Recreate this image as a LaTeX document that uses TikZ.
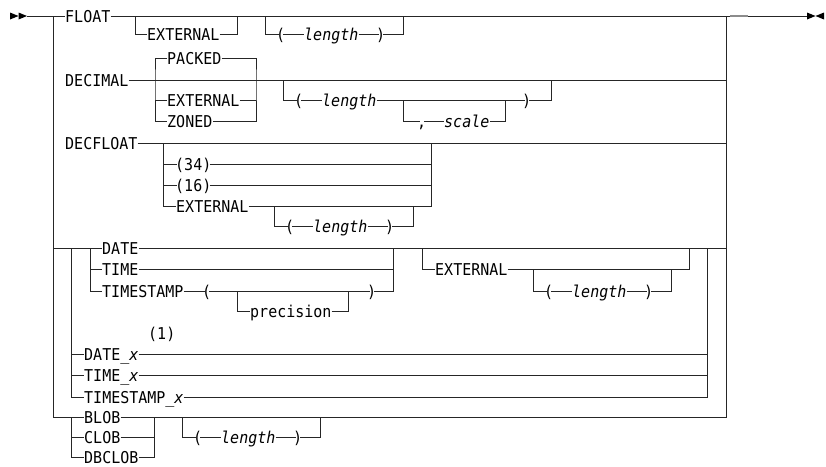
\documentclass[tikz,border=0pt]{standalone}
\usepackage{fontspec}
\newfontfamily\rrfont{DejaVu Sans Mono}[ItalicFont={DejaVu Sans Mono Oblique},FakeStretch=0.92]
\tikzset{
  rail/.style={line width=0.9pt, draw=black!85},
  kw/.style={anchor=west, inner xsep=0pt, inner ysep=0pt, text height=12pt, text depth=0pt, font=\rrfont\fontsize{16.3}{18}\selectfont},
  var/.style={kw, font=\rrfont\itshape\fontsize{16.3}{18}\selectfont},
  pun/.style={kw, inner xsep=-2.5pt},
  kwp/.style={kw, inner xsep=-2pt},
  railtip/.style={fill=black},
}
\newcommand\rrlen[5]{% prefix, x0, y, parent y, x-end
  \node[pun] (#1a) at (#2+13.5,#3) {(};
  \node[var] (#1b) at (#2+39,#3) {length};
  \node[pun] (#1c) at (#2+113.5,#3) {)};
  \coordinate (#1s) at (#2,#4);
  \coordinate (#1e) at (#5,#4);
  \draw[rail] (#1s) |- (#1a.west);
  \draw[rail] (#1a.east) -- (#1b.west);
  \draw[rail] (#1b.east) -- (#1c.west);
  \draw[rail] (#1c.east) -| (#1e);
}
\begin{document}
\begin{tikzpicture}[x=1pt,y=-1pt]
\useasboundingbox (0,0) rectangle (826,466);
\coordinate (start) at (27,16);
\coordinate (end) at (807,16);
\coordinate (Ltop) at (53,16);
\coordinate (Lbot) at (53,417);
\coordinate (Rtop) at (726,16);
\coordinate (Rbot) at (726,417);
\fill[railtip] (10,12.5) -- (18.5,16) -- (10,19.5) -- cycle;
\fill[railtip] (18.5,12.5) -- (27,16) -- (18.5,19.5) -- cycle;
\fill[railtip] (807,12.5) -- (815.5,16) -- (807,19.5) -- cycle;
\fill[railtip] (824,12.5) -- (815.5,16) -- (824,19.5) -- cycle;

% FLOAT
\node[kw] (float) at (65,16) {FLOAT};
\draw[rail] (start) -- (float.west);
\draw[rail] (float.east) -- (end);
\node[kw] (fext) at (147,34) {EXTERNAL};
\coordinate (fe1) at (135,16); \coordinate (fe2) at (237,16);
\draw[rail] (fe1) |- (fext.west);
\draw[rail] (fext.east) -| (fe2);
\rrlen{fl}{265}{34}{16}{403}

% DECIMAL
\node[kw] (decimal) at (65,80) {DECIMAL};
\node[kw] (packed) at (167,58) {PACKED};
\node[kw] (dext) at (167,100) {EXTERNAL};
\node[kw] (zoned) at (167,121) {ZONED};
\coordinate (dg1) at (155,80); \coordinate (dg2) at (256,80);
\draw[rail] (decimal.east) -- (Rtop |- decimal.east);
\draw[rail] (packed.west) -| (dg1) |- (zoned.west);
\draw[rail] (dg1 |- dext.west) -- (dext.west);
\draw[rail] (packed.east) -| (dg2) |- (zoned.east);
\draw[rail] (dext.east) -- (dg2 |- dext.east);
\node[pun] (dlp) at (296.5,100) {(};
\node[var] (dllen) at (322,100) {length};
\node[pun] (dlq) at (524.5,100) {)};
\coordinate (dl1) at (283,80); \coordinate (dl2) at (551,80);
\draw[rail] (dl1) |- (dlp.west);
\draw[rail] (dlp.east) -- (dllen.west);
\draw[rail] (dllen.east) -- (dlq.west);
\draw[rail] (dlq.east) -| (dl2);
\node[pun] (dcomma) at (419.5,121) {,};
\node[var] (dscale) at (444,121) {scale};
\coordinate (dc1) at (403,100); \coordinate (dc2) at (505,100);
\draw[rail] (dc1) |- (dcomma.west);
\draw[rail] (dcomma.east) -- (dscale.west);
\draw[rail] (dscale.east) -| (dc2);

% DECFLOAT
\node[kw] (decfloat) at (65,143) {DECFLOAT};
\draw[rail] (decfloat.east) -- (Rtop |- decfloat.east);
\node[kwp] (d34) at (177,164) {(34)};
\node[kwp] (d16) at (177,185) {(16)};
\node[kw] (dfext) at (176,206) {EXTERNAL};
\coordinate (fg1) at (163,143); \coordinate (fg2) at (431,143);
\draw[rail] (fg1) |- (dfext.west);
\draw[rail] (fg1 |- d34.west) -- (d34.west);
\draw[rail] (fg1 |- d16.west) -- (d16.west);
\draw[rail] (dfext.east) -| (fg2);
\draw[rail] (d34.east) -- (fg2 |- d34.east);
\draw[rail] (d16.east) -- (fg2 |- d16.east);
\rrlen{fx}{274}{226}{206}{413}

% DATE / TIME / TIMESTAMP
\node[kw] (date) at (102,248) {DATE};
\node[kw] (time) at (102,269) {TIME};
\node[kw] (tstamp) at (102,291) {TIMESTAMP};
\coordinate (t0) at (71,248); \coordinate (t1) at (90,248);
\coordinate (t2) at (393,248); \coordinate (t3) at (707,248);
\draw[rail] (Ltop |- date.west) -- (date.west);
\draw[rail] (date.east) -- (Rtop |- date.east);
\draw[rail] (t1) |- (tstamp.west);
\draw[rail] (t1 |- time.west) -- (time.west);
\draw[rail] (time.east) -- (t2 |- time.east);
\node[pun] (tsp) at (204.5,291) {(};
\node[pun] (tsq) at (369.5,291) {)};
\node[kw] (prec) at (250,311) {precision};
\coordinate (p1) at (237,291); \coordinate (p2) at (348,291);
\draw[rail] (tstamp.east) -- (tsp.west);
\draw[rail] (tsp.east) -- (tsq.west);
\draw[rail] (tsq.east) -| (t2);
\draw[rail] (p1) |- (prec.west);
\draw[rail] (prec.east) -| (p2);
\node[kw] (text) at (435,269) {EXTERNAL};
\coordinate (x1) at (422,248); \coordinate (x2) at (689,248);
\draw[rail] (x1) |- (text.west);
\draw[rail] (text.east) -| (x2);
\rrlen{tl}{533}{291}{269}{671}

% _x forms
\node[kw] (footnote) at (148,333) {(1)};
\node[kw] (datex) at (84,354) {DATE\_\textit{x}};
\node[kw] (timex) at (84,375) {TIME\_\textit{x}};
\node[kw] (tsx) at (84,397) {TIMESTAMP\_\textit{x}};
\draw[rail] (t0) |- (tsx.west);
\draw[rail] (t0 |- datex.west) -- (datex.west);
\draw[rail] (t0 |- timex.west) -- (timex.west);
\draw[rail] (datex.east) -- (t3 |- datex.east);
\draw[rail] (timex.east) -- (t3 |- timex.east);
\draw[rail] (tsx.east) -| (t3);

% LOBs
\node[kw] (blob) at (84,417) {BLOB};
\node[kw] (clob) at (84,437) {CLOB};
\node[kw] (dbclob) at (84,457) {DBCLOB};
\coordinate (b0) at (71,417); \coordinate (b1) at (154,417);
\draw[rail] (b0) |- (dbclob.west);
\draw[rail] (b0 |- clob.west) -- (clob.west);
\draw[rail] (clob.east) -- (b1 |- clob.east);
\draw[rail] (dbclob.east) -| (b1);
\rrlen{bl}{182}{437}{417}{320}

% main rails
\draw[rail] (Ltop) -- (Lbot) -- (blob.west);
\draw[rail] (blob.east) -- (Rbot) -- (Rtop);
\coordinate (g1) at (730,16); \coordinate (g2) at (748,16);
\draw[line width=1.3pt, black!45] (g1) -- (g2);
\end{tikzpicture}
\end{document}
